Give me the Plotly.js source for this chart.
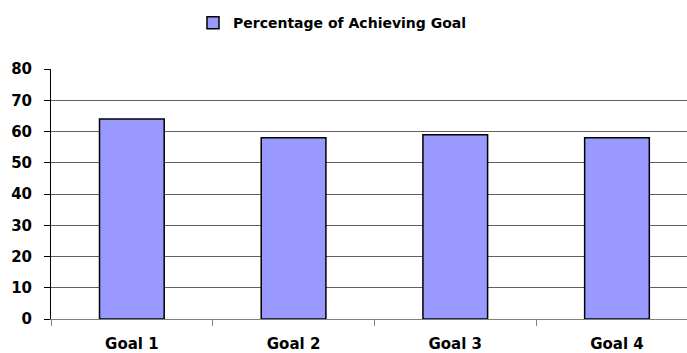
<!DOCTYPE html>
<html>
<head>
<meta charset="utf-8">
<script src="https://cdn.plot.ly/plotly-3.0.1.min.js"></script>
<style>
  html, body { margin: 0; padding: 0; background: #fff; }
  #chart { width: 687px; height: 353px; }
</style>
</head>
<body>
<div id="chart"></div>
<script>
// Share of goal achievement per goal
const goals = ['Goal 1', 'Goal 2', 'Goal 3', 'Goal 4'];
const percentages = [64, 58, 59, 58];
const seriesName = 'Percentage of Achieving Goal';
const yTicks = [0, 10, 20, 30, 40, 50, 60, 70, 80];

const family = '"DejaVu Sans", "Liberation Sans", sans-serif';
const boldFont = (size) => ({ family: family, size: size, color: '#000', weight: 'bold' });

const trace = {
  type: 'bar',
  name: seriesName,
  x: goals,
  y: percentages,
  width: 0.4,
  marker: { color: '#9999FF', line: { color: '#000', width: 1.5 } },
  showlegend: true,
  hoverinfo: 'x+y'
};

const layout = {
  width: 687,
  height: 353,
  margin: { l: 51, r: 0, t: 69, b: 34 },
  paper_bgcolor: '#fff',
  plot_bgcolor: '#fff',
  font: boldFont(14),
  showlegend: true,
  legend: {
    orientation: 'h',
    xref: 'container', yref: 'container',
    x: 193 / 687, xanchor: 'left',
    y: 0.980, yanchor: 'top',
    font: boldFont(14),
    itemwidth: 30
  },
  xaxis: {
    type: 'category',
    range: [-0.5, 3.433],
    showline: true, linecolor: '#808080', linewidth: 1,
    ticks: 'outside', tickson: 'boundaries', ticklen: 6, tickcolor: '#808080',
    tickfont: boldFont(15),
    ticklabelstandoff: 11,
    showgrid: false, zeroline: false
  },
  yaxis: {
    range: [0, 80],
    tickvals: yTicks,
    ticktext: yTicks.map(String),
    showline: true, linecolor: '#000', linewidth: 1,
    ticks: 'outside', ticklen: 6, tickcolor: '#000',
    tickfont: boldFont(15),
    ticklabelstandoff: 9,
    showgrid: true, gridcolor: '#606060', gridwidth: 1,
    zeroline: false
  },
  bargap: 0.6
};

Plotly.newPlot('chart', [trace], layout, { displayModeBar: false, staticPlot: true });
</script>
</body>
</html>
